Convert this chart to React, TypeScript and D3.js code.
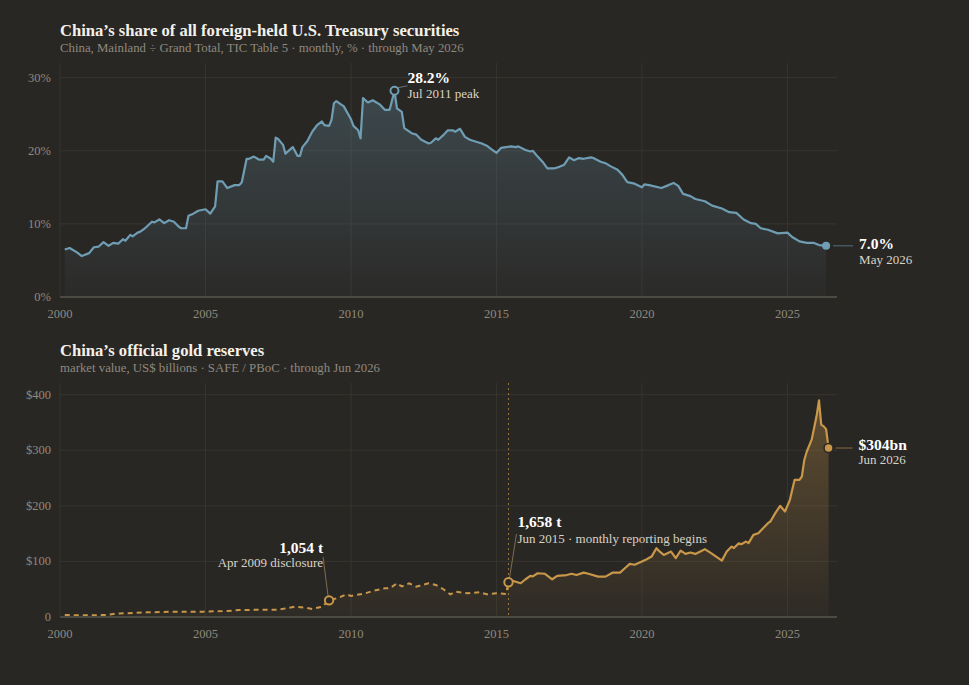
import React, { useEffect } from 'react';
import * as d3 from 'd3';

const parseMonth = d3.timeParse('%Y-%m');

// China, Mainland share of foreign-held Treasuries (%)
const shareDates = [
  '2000-03', '2000-05', '2000-08', '2000-10', '2001-01', '2001-03', '2001-05', '2001-07', '2001-09', '2001-11',
  '2002-01', '2002-03', '2002-04', '2002-06', '2002-07', '2002-09', '2002-10', '2002-12', '2003-01', '2003-03',
  '2003-04', '2003-06', '2003-08', '2003-10', '2003-12', '2004-02', '2004-03', '2004-05', '2004-06', '2004-08',
  '2004-10', '2005-01', '2005-03', '2005-05', '2005-06', '2005-08', '2005-10', '2006-01', '2006-03', '2006-04',
  '2006-06', '2006-07', '2006-09', '2006-11', '2007-01', '2007-02', '2007-04', '2007-05', '2007-06', '2007-07',
  '2007-09', '2007-10', '2008-01', '2008-03', '2008-04', '2008-05', '2008-07', '2008-09', '2008-11', '2009-01',
  '2009-02', '2009-04', '2009-05', '2009-06', '2009-07', '2009-09', '2009-10', '2010-01', '2010-02', '2010-04',
  '2010-05', '2010-06', '2010-08', '2010-10', '2011-01', '2011-03', '2011-05', '2011-07', '2011-08', '2011-10',
  '2011-11', '2012-02', '2012-04', '2012-06', '2012-09', '2012-10', '2012-12', '2013-01', '2013-03', '2013-05',
  '2013-07', '2013-08', '2013-10', '2013-12', '2014-02', '2014-04', '2014-07', '2014-09', '2014-11', '2015-01',
  '2015-03', '2015-05', '2015-07', '2015-09', '2015-10', '2016-01', '2016-03', '2016-04', '2016-06', '2016-08',
  '2016-10', '2017-01', '2017-03', '2017-05', '2017-07', '2017-09', '2017-11', '2018-01', '2018-04', '2018-05',
  '2018-08', '2018-10', '2018-12', '2019-03', '2019-05', '2019-07', '2019-10', '2020-01', '2020-02', '2020-04',
  '2020-09', '2020-12', '2021-02', '2021-04', '2021-06', '2021-09', '2021-11', '2022-03', '2022-06', '2022-10',
  '2023-01', '2023-04', '2023-07', '2023-10', '2023-12', '2024-02', '2024-05', '2024-09', '2025-01', '2025-03',
  '2025-06', '2025-09', '2025-12', '2026-02', '2026-05',
];
const shareValues = [
  6.5, 6.7, 6.1, 5.6, 6.0, 6.8, 6.9, 7.5, 7.0, 7.4,
  7.3, 7.9, 7.7, 8.5, 8.3, 8.8, 8.9, 9.4, 9.7, 10.3,
  10.2, 10.6, 10.1, 10.5, 10.3, 9.6, 9.4, 9.4, 11.1, 11.4,
  11.8, 12.0, 11.4, 12.4, 15.8, 15.8, 14.9, 15.3, 15.3, 15.7,
  18.9, 18.9, 19.2, 18.8, 18.8, 19.3, 18.9, 18.5, 21.8, 21.6,
  20.8, 19.6, 20.5, 19.3, 19.3, 20.5, 21.3, 22.6, 23.5, 24.0,
  23.5, 23.4, 24.2, 26.5, 26.8, 26.3, 26.1, 24.3, 23.4, 22.8,
  21.7, 27.2, 26.6, 26.9, 26.3, 25.6, 25.6, 28.2, 25.8, 25.3,
  23.1, 22.4, 22.2, 21.5, 21.0, 21.1, 21.7, 21.5, 22.1, 22.8,
  22.8, 22.6, 23.0, 21.9, 21.5, 21.3, 21.0, 20.7, 20.2, 19.7,
  20.4, 20.5, 20.6, 20.5, 20.6, 20.1, 19.9, 20.0, 19.2, 18.5,
  17.6, 17.6, 17.8, 18.1, 19.1, 18.7, 19.0, 18.9, 19.1, 19.0,
  18.5, 18.3, 17.9, 17.4, 16.7, 15.7, 15.5, 15.0, 15.4, 15.3,
  14.9, 15.3, 15.6, 15.2, 14.1, 13.8, 13.4, 13.1, 12.5, 12.1,
  11.6, 11.5, 10.6, 10.1, 10.0, 9.4, 9.2, 8.7, 8.8, 8.2,
  7.6, 7.4, 7.4, 7.1, 7.0,
];

// Gold reserves, US$ bn — sparse disclosures before Jun 2015 (dashed)
const goldEarlyDates = [
  '2000-03', '2000-12', '2001-08', '2001-12', '2003-01', '2003-11', '2004-12', '2005-10', '2006-03', '2007-07',
  '2008-02', '2008-06', '2008-09', '2009-01', '2009-04', '2009-08', '2009-11', '2010-01', '2010-07', '2010-10',
  '2011-03', '2011-05', '2011-08', '2011-10', '2012-01', '2012-04', '2012-09', '2012-12', '2013-03', '2013-06',
  '2013-08', '2014-01', '2014-06', '2014-09', '2015-01', '2015-05', '2015-06',
];
const goldEarlyValues = [
  3.6, 3.0, 3.6, 6.0, 8.4, 9.6, 9.6, 10.8, 12.6, 13.2,
  18.6, 16.8, 14.4, 18.6, 30.0, 34.8, 40.8, 38.0, 42.6, 46.8,
  51.6, 51.6, 60.6, 55.0, 60.6, 54.6, 60.6, 57.6, 50.4, 40.8,
  45.6, 42.6, 44.4, 40.8, 42.6, 41.5, 62.5,
];
// monthly reporting from Jun 2015 (solid)
const goldDates = [
  '2015-06', '2015-08', '2015-11', '2016-01', '2016-03', '2016-04', '2016-06', '2016-09', '2016-12', '2017-02',
  '2017-06', '2017-08', '2017-10', '2018-01', '2018-03', '2018-07', '2018-10', '2019-01', '2019-04', '2019-06',
  '2019-08', '2019-10', '2020-01', '2020-03', '2020-05', '2020-07', '2020-08', '2020-10', '2021-01', '2021-03',
  '2021-05', '2021-07', '2021-09', '2021-11', '2022-03', '2022-06', '2022-10', '2022-12', '2023-02', '2023-03',
  '2023-05', '2023-06', '2023-08', '2023-09', '2023-11', '2024-01', '2024-03', '2024-05', '2024-06', '2024-08',
  '2024-10', '2024-12', '2025-02', '2025-04', '2025-06', '2025-07', '2025-08', '2025-09', '2025-11', '2026-01',
  '2026-02', '2026-03', '2026-04', '2026-05', '2026-06',
];
const goldValues = [
  62.5, 64.9, 60.7, 67.9, 73.9, 73.0, 78.7, 77.8, 67.9, 73.9,
  75.5, 77.8, 75.5, 79.9, 77.8, 72.7, 72.7, 79.9, 79.9, 87.7,
  95.5, 94.0, 99.7, 103.9, 108.7, 123.8, 119.0, 111.7, 117.7, 105.8,
  119.5, 113.5, 116.0, 113.5, 122.0, 113.5, 101.4, 117.7, 126.7, 124.0,
  132.7, 131.0, 135.7, 133.0, 147.7, 150.8, 159.8, 168.8, 171.8, 186.8,
  200.0, 189.8, 210.8, 246.8, 246.8, 252.8, 283.0, 297.8, 319.0, 361.0,
  389.7, 346.0, 343.0, 338.0, 304.0,
];

const xYears = [2000, 2005, 2010, 2015, 2020, 2025];
const shareTicks = [0, 10, 20, 30];
const goldTicks = [0, 100, 200, 300, 400];

const BG = '#292724';
const BLUE = '#6f9db4';
const GOLD = '#c9974a';
const GRID = '#37352f';
const FONT = "Georgia, 'Liberation Serif', serif";

type Pt = { date: Date; value: number };
const zip = (ds: string[], vs: number[]): Pt[] => ds.map((d, i) => ({ date: parseMonth(d)!, value: vs[i] }));

const share = zip(shareDates, shareValues);
const goldEarly = zip(goldEarlyDates, goldEarlyValues);
const gold = zip(goldDates, goldValues);

const x = d3.scaleTime().domain([new Date(2000, 0, 1), new Date(2026, 8, 15)]).range([60, 837]);

function Panel({ top, bottom, yMax, ticks, fmt, color, gradId, topOp, children }: any) {
  const y = d3.scaleLinear().domain([0, yMax]).range([bottom, top]);
  return (
    <g>
      <defs>
        <linearGradient id={gradId} gradientUnits="userSpaceOnUse" x1="0" y1={top} x2="0" y2={bottom}>
          <stop offset="0" stopColor={color} stopOpacity={topOp} />
          <stop offset="1" stopColor={color} stopOpacity={0.03} />
        </linearGradient>
      </defs>
      {ticks.map((t) => (
        <g key={t}>
          <line x1={60} x2={837} y1={y(t)} y2={y(t)} stroke={GRID} />
          <text x={51} y={y(t) + 4} textAnchor="end" fontSize={12.5} fill="#8e897e">{fmt(t)}</text>
        </g>
      ))}
      {xYears.map((yr) => {
        const xx = x(new Date(yr, 0, 1));
        return (
          <g key={yr}>
            <line x1={xx} x2={xx} y1={top} y2={bottom} stroke={GRID} />
            <text x={xx} y={bottom + 21} textAnchor="middle" fontSize={12.5} fill="#8e897e">{yr}</text>
          </g>
        );
      })}
      {children(y)}
      <line x1={60} x2={837} y1={bottom} y2={bottom} stroke="#4d4a44" strokeWidth={2} />
    </g>
  );
}

export default function App() {
  useEffect(() => {
    document.body.style.margin = '0';
    document.body.style.background = BG;
  }, []);

  return (
    <svg width={969} height={685} style={{ display: 'block', background: BG }} fontFamily={FONT}>
      {/* top panel */}
      <text x={60} y={36} fontSize={16.6} fontWeight="bold" fill="#f4f1ea">China’s share of all foreign-held U.S. Treasury securities</text>
      <text x={60} y={52} fontSize={12.8} fill="#8e897e">China, Mainland ÷ Grand Total, TIC Table 5 · monthly, % · through May 2026</text>
      <Panel top={63} bottom={297} yMax={32} ticks={shareTicks} fmt={(t) => `${t}%`} color={BLUE} gradId="gShare" topOp={0.32}>
        {(y) => {
          const area = d3.area<Pt>().x((d) => x(d.date)).y0(297).y1((d) => y(d.value));
          const line = d3.line<Pt>().x((d) => x(d.date)).y((d) => y(d.value));
          const peak = share.find((d) => d.value === d3.max(shareValues))!;
          const last = share[share.length - 1];
          const px = x(peak.date), py = y(peak.value);
          const lx = x(last.date), ly = y(last.value);
          return (
            <g>
              <path d={area(share)!} fill="url(#gShare)" />
              <path d={line(share)!} fill="none" stroke={BLUE} strokeWidth={2.2} strokeLinejoin="round" />
              <line x1={px + 3} y1={py - 3} x2={px + 13} y2={py - 5} stroke="#6c7479" />
              <circle cx={px} cy={py} r={4} fill={BG} stroke={BLUE} strokeWidth={2} />
              <text x={px + 13} y={83} fontSize={15.5} fontWeight="bold" fill="#fff">28.2%</text>
              <text x={px + 13} y={98} fontSize={13} fill="#d9d3c6">Jul 2011 peak</text>
              <line x1={lx + 7} y1={ly} x2={lx + 27} y2={ly} stroke={BLUE} strokeOpacity={0.6} />
              <circle cx={lx} cy={ly} r={4} fill={BLUE} />
              <text x={lx + 33} y={ly + 3} fontSize={15.5} fontWeight="bold" fill="#fff">7.0%</text>
              <text x={lx + 33} y={ly + 18} fontSize={13} fill="#d9d3c6">May 2026</text>
            </g>
          );
        }}
      </Panel>

      {/* bottom panel */}
      <text x={60} y={356} fontSize={16.6} fontWeight="bold" fill="#f4f1ea">China’s official gold reserves</text>
      <text x={60} y={372} fontSize={12.8} fill="#8e897e">market value, US$ billions · SAFE / PBoC · through Jun 2026</text>
      <Panel top={383} bottom={617} yMax={421} ticks={goldTicks} fmt={(t) => (t === 0 ? '0' : `$${t}`)} color={GOLD} gradId="gGold" topOp={0.36}>
        {(y) => {
          const area = d3.area<Pt>().x((d) => x(d.date)).y0(617).y1((d) => y(d.value));
          const line = d3.line<Pt>().x((d) => x(d.date)).y((d) => y(d.value));
          const all = goldEarly.slice(0, -1).concat(gold);
          const disc = goldEarly.find((d) => d.value === 30.0)!;
          const start = gold[0];
          const last = gold[gold.length - 1];
          const dx = x(disc.date), dy = y(disc.value);
          const sx = x(start.date), sy = y(start.value);
          const lx = x(last.date), ly = y(last.value);
          return (
            <g>
              <path d={area(all)!} fill="url(#gGold)" />
              <line x1={sx} x2={sx} y1={383} y2={617} stroke={GOLD} strokeOpacity={0.7} strokeDasharray="2,3" />
              <path d={line(goldEarly)!} fill="none" stroke={GOLD} strokeWidth={2} strokeDasharray="5,4" />
              <path d={line(gold)!} fill="none" stroke={GOLD} strokeWidth={2.2} strokeLinejoin="round" />
              <line x1={dx - 1} y1={dy - 4} x2={dx - 6} y2={557} stroke="#7c6d52" />
              <circle cx={dx} cy={dy} r={4.2} fill={BG} stroke={GOLD} strokeWidth={2} />
              <text x={dx - 6} y={553} textAnchor="end" fontSize={15.5} fontWeight="bold" fill="#fff">1,054 t</text>
              <text x={dx - 6} y={567} textAnchor="end" fontSize={13} fill="#d9d3c6">Apr 2009 disclosure</text>
              <line x1={sx + 1} y1={sy - 4} x2={sx + 8} y2={534} stroke="#7c6d52" />
              <circle cx={sx} cy={sy} r={4.2} fill={BG} stroke={GOLD} strokeWidth={2} />
              <text x={sx + 9} y={527} fontSize={15.5} fontWeight="bold" fill="#fff">1,658 t</text>
              <text x={sx + 9} y={543} fontSize={13} fill="#d9d3c6">Jun 2015 · monthly reporting begins</text>
              <line x1={lx + 7} y1={ly} x2={lx + 24} y2={ly} stroke={GOLD} strokeOpacity={0.6} />
              <circle cx={lx} cy={ly} r={4.5} fill={GOLD} stroke={BG} strokeWidth={1.5} />
              <text x={lx + 30} y={ly + 2} fontSize={15.5} fontWeight="bold" fill="#fff">$304bn</text>
              <text x={lx + 30} y={ly + 16} fontSize={13} fill="#d9d3c6">Jun 2026</text>
            </g>
          );
        }}
      </Panel>
    </svg>
  );
}
